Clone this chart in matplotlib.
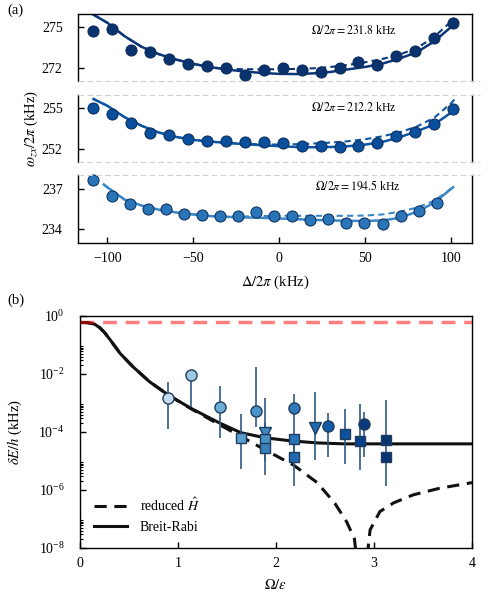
import numpy as np
import matplotlib
matplotlib.use("Agg")
import matplotlib.pyplot as plt
from matplotlib.lines import Line2D
from matplotlib.ticker import FixedLocator, NullFormatter

plt.rcParams["font.family"] = ["Liberation Serif", "DejaVu Serif"]
plt.rcParams["mathtext.fontset"] = "stix"
plt.rcParams["font.size"] = 10
plt.rcParams["axes.linewidth"] = 1.0

# ---- panel (a): trap frequency vs detuning, three Rabi frequencies ----
rabi_labels = [r"$\Omega/2\pi=231.8$ kHz", r"$\Omega/2\pi=212.2$ kHz", r"$\Omega/2\pi=194.5$ kHz"]

det_top = [-108, -97, -86, -75, -64, -53, -42, -31, -20, -9, 2, 13, 24, 35, 46, 57, 68, 79, 90, 101]
freq_top = [274.72, 274.85, 273.35, 273.15, 272.65, 272.3, 272.1, 271.98, 271.48, 271.8,
            271.98, 271.85, 271.65, 271.98, 272.43, 272.23, 272.85, 273.22, 274.23, 275.3]

det_mid = [-108, -97, -86, -75, -64, -53, -42, -31, -20, -9, 2, 13, 24, 35, 46, 57, 68, 79, 90, 101]
freq_mid = [255.0, 254.6, 253.9, 253.2, 253.0, 252.7, 252.55, 252.53, 252.48, 252.48,
            252.43, 252.2, 252.2, 252.15, 252.2, 252.45, 252.94, 253.27, 253.85, 254.92]

det_bot = [-108, -97.5, -87, -76.5, -66, -55.5, -45, -34.5, -24, -13.5, -3, 7.5, 18, 28.5,
           39, 49.5, 60, 70.5, 81, 91.5]
freq_bot = [237.62, 236.45, 235.87, 235.5, 235.5, 235.13, 235.05, 234.95, 234.95, 235.25,
            234.95, 234.95, 234.7, 234.75, 234.5, 234.5, 234.37, 234.95, 235.37, 235.95]

fit_det = [-108, -100, -90, -80, -70, -60, -50, -40, -30, -20, -10, 0, 10, 20, 30, 40, 50,
           60, 70, 80, 90, 100, 102]
fit_top_full = [275.95, 275.35, 274.35, 273.55, 273.0, 272.6, 272.28, 272.03, 271.85, 271.7,
                271.6, 271.53, 271.52, 271.57, 271.68, 271.87, 272.05, 272.3, 272.68, 273.15,
                273.95, 275.05, 275.3]
fit_top_red = [275.95, 275.35, 274.35, 273.55, 273.0, 272.6, 272.28, 272.03, 271.9, 271.88,
               271.87, 271.88, 271.9, 271.95, 272.05, 272.2, 272.4, 272.65, 272.98, 273.45,
               274.3, 275.45, 275.7]
fit_mid_full = [255.7, 255.2, 254.35, 253.7, 253.2, 252.87, 252.65, 252.52, 252.42, 252.33,
                252.25, 252.18, 252.12, 252.1, 252.12, 252.18, 252.3, 252.5, 252.85, 253.3,
                253.8, 254.7, 255.1]
fit_mid_red = [255.7, 255.2, 254.35, 253.7, 253.2, 252.87, 252.65, 252.52, 252.42, 252.35,
               252.32, 252.3, 252.33, 252.38, 252.45, 252.55, 252.7, 252.92, 253.22, 253.65,
               254.3, 255.4, 255.7]
fit_det_bot = [-102, -100, -90, -80, -70, -60, -50, -40, -30, -20, -10, 0, 10, 20, 30, 40,
               50, 60, 70, 80, 90, 100, 101]
fit_bot_full = [237.3, 237.1, 236.2, 235.75, 235.45, 235.25, 235.1, 234.98, 234.92, 234.88,
                234.85, 234.8, 234.75, 234.7, 234.66, 234.63, 234.62, 234.66, 234.85, 235.3,
                235.95, 237.0, 237.1]
fit_bot_red = [237.3, 237.1, 236.2, 235.75, 235.45, 235.25, 235.1, 234.98, 234.92, 234.95,
               234.98, 235.0, 235.0, 235.0, 235.0, 235.0, 235.02, 235.1, 235.3, 235.6,
               236.1, 237.0, 237.15]

# ---- panel (b): energy error vs Omega/epsilon ----
curve_x = [0, 0.08, 0.15, 0.2, 0.25, 0.31, 0.41, 0.54, 0.71, 0.9, 1.13, 1.43, 1.64, 1.89,
           2.14, 2.42, 2.7, 3.0, 4.0]
breit_rabi = [0.60, 0.59, 0.52, 0.40, 0.27, 0.148, 0.051, 0.0178, 5.4e-3, 1.9e-3, 6.6e-4,
              2.0e-4, 9.5e-5, 6.3e-5, 5.0e-5, 4.2e-5, 3.9e-5, 3.9e-5, 3.9e-5]
reduced_x = [0, 0.08, 0.15, 0.2, 0.25, 0.31, 0.41, 0.54, 0.71, 0.9, 1.13, 1.43, 1.64, 1.89,
             2.18, 2.42, 2.6, 2.72, 2.8, 2.875, 2.96, 3.06, 3.2, 3.4, 3.67, 3.96, 4.0]
reduced_h = [0.60, 0.59, 0.52, 0.40, 0.27, 0.148, 0.051, 0.0178, 5.4e-3, 1.9e-3, 6.4e-4,
             1.74e-4, 7.1e-5, 2.4e-5, 7.2e-6, 1.8e-6, 3.5e-7, 8.1e-8, 2.1e-8, 1e-10,
             4.2e-8, 1.8e-7, 3.6e-7, 6.8e-7, 1.15e-6, 1.7e-6, 1.8e-6]
upper_bound = 0.6

meas_x = [0.90, 1.13, 1.43, 1.64, 1.80, 1.89, 1.89, 1.89, 2.18, 2.18, 2.18, 2.40, 2.53,
          2.70, 2.86, 2.90, 3.12, 3.12]
meas_y = [1.45e-3, 9.3e-3, 7.4e-4, 6.0e-5, 5.2e-4, 9.5e-5, 5.8e-5, 2.8e-5, 6.6e-4, 5.8e-5,
          1.35e-5, 1.35e-4, 1.62e-4, 8.5e-5, 5.0e-5, 1.9e-4, 5.2e-5, 1.4e-5]
meas_lo = [1.26e-4, 7.4e-4, 6.0e-5, 5.2e-6, 1.5e-4, 2.5e-5, 3.2e-6, 1.0e-5, 2.0e-4, 2.0e-5,
           1.35e-6, 1.07e-5, 1.35e-5, 7.9e-6, 4.9e-6, 1.4e-5, 1.4e-6, 1.4e-5]
meas_hi = [5.4e-3, 1.1e-2, 3.9e-3, 4.1e-4, 1.8e-2, 1.5e-3, 2.0e-4, 5.0e-5, 2.1e-3, 2.0e-4,
           5.0e-5, 2.45e-3, 4.4e-4, 6.0e-4, 8.9e-4, 5.0e-4, 1.26e-3, 1.4e-5]
meas_marker = ["o", "o", "o", "s", "o", "v", "s", "s", "o", "s", "s", "v", "o", "s", "s",
               "o", "s", "s"]
meas_color = ["#c6dbef", "#9ecae1", "#6baed6", "#5a9fd2", "#4a94c9", "#3f88c3", "#4a90c4",
              "#3a80bd", "#2f7abb", "#2a74b6", "#2169b0", "#1f6ab0", "#135ca6", "#0d529c",
              "#08408a", "#0a3a7e", "#083572", "#083572"]

fig = plt.figure(figsize=(4.92, 6.10), dpi=100)

# panel (a) axes, stacked
L, W = 78 / 492, 394 / 492
ax_top = fig.add_axes([L, 1 - 81 / 610, W, 67 / 610])
ax_mid = fig.add_axes([L, 1 - 162 / 610, W, 67 / 610])
ax_bot = fig.add_axes([L, 1 - 243 / 610, W, 68 / 610])

sets = [
    (ax_top, det_top, freq_top, fit_det, fit_top_full, fit_top_red, "#09336f", "#0b377a", (271, 276), [272, 275], (0.70, 0.76)),
    (ax_mid, det_mid, freq_mid, fit_det, fit_mid_full, fit_mid_red, "#0a4f9c", "#0d56a4", (251, 256), [252, 255], (0.70, 0.82)),
    (ax_bot, det_bot, freq_bot, fit_det_bot, fit_bot_full, fit_bot_red, "#2a74b8", "#3a87c8", (233, 238), [234, 237], (0.71, 0.84)),
]
for i, (ax, dx, fy, fx, ffull, fred, col, lcol, ylim, yt, tpos) in enumerate(sets):
    ax.plot(fx, ffull, color=lcol, lw=1.8, zorder=2)
    ax.plot(fx, fred, color=lcol, lw=1.5, ls=(0, (3, 2)), zorder=2)
    ax.plot(dx, fy, "o", ms=8, mfc=col, mec="#0a2a55", mew=0.7, zorder=3, clip_on=False)
    ax.set_xlim(-117, 112)
    ax.set_ylim(*ylim)
    ax.set_yticks(yt)
    ax.tick_params(axis="y", direction="in", length=4, width=1, labelsize=10, right=False,
                   pad=11)
    ax.text(tpos[0], tpos[1], rabi_labels[i], transform=ax.transAxes, ha="center",
            va="center", fontsize=8.5)
    if i > 0:
        ax.spines["top"].set_visible(False)
    if i < 2:
        ax.spines["bottom"].set_visible(False)
        ax.tick_params(axis="x", bottom=False, labelbottom=False)

ax_bot.set_xticks([-100, -50, 0, 50, 100])
ax_bot.tick_params(axis="x", direction="in", length=4, width=1, labelsize=10, pad=6.5)
ax_bot.set_xlabel(r"$\Delta/2\pi$ (kHz)", fontsize=10.5, labelpad=6)

# dashed break lines
for yy in [81, 95, 162, 175]:
    fig.add_artist(Line2D([L, 480 / 492], [1 - yy / 610, 1 - yy / 610], color="#d0d0d0",
                          lw=0.8, ls=(0, (5, 3)), transform=fig.transFigure))

fig.text(31 / 492, 1 - 128 / 610, r"$\omega_{zx}/2\pi$ (kHz)", rotation=90, ha="center",
         va="center", fontsize=10.5)
fig.text(0.015, 0.983, "(a)", ha="left", va="center", fontsize=10.5)
fig.text(0.015, 1 - 300 / 610, "(b)", ha="left", va="center", fontsize=10.5)

# panel (b)
ax_b = fig.add_axes([80 / 492, 1 - 548 / 610, 392 / 492, 232 / 610])
ax_b.set_yscale("log")
ax_b.plot([0, 4], [upper_bound, upper_bound], color="red", alpha=0.5, lw=2.5,
          ls=(0, (4, 2.5)), zorder=3)
ax_b.plot(reduced_x, reduced_h, color="#111111", lw=2.2, ls=(0, (4, 2.5)),
          label=r"reduced $\hat{H}$", zorder=2)
ax_b.plot(curve_x, breit_rabi, color="#111111", lw=2.2, label="Breit-Rabi", zorder=2)

for x, y, lo, hi, m, c in zip(meas_x, meas_y, meas_lo, meas_hi, meas_marker, meas_color):
    ax_b.errorbar([x], [y], yerr=[[y - lo], [hi - y]], fmt=m, ms=8 if m != "s" else 7.5,
                  mfc=c, mec="#1f3d5c", mew=1.0, ecolor="#2d5a85", elinewidth=1.2,
                  capsize=0, zorder=4)

ax_b.set_xlim(0, 4)
ax_b.set_ylim(1e-8, 1)
ax_b.set_xticks([0, 1, 2, 3, 4])
ax_b.yaxis.set_major_locator(FixedLocator([1e-8, 1e-6, 1e-4, 1e-2, 1]))
ax_b.yaxis.set_minor_locator(FixedLocator([k * 10.0 ** d for d in (-8, -6, -4, -2) for k in range(2, 10)]))
ax_b.yaxis.set_minor_formatter(NullFormatter())
ax_b.tick_params(axis="x", which="major", direction="in", length=4.5, width=1, labelsize=10,
                 pad=6.5)
ax_b.tick_params(axis="y", which="major", direction="in", length=4.5, width=1, labelsize=10,
                 pad=11)
ax_b.tick_params(axis="y", which="minor", direction="in", length=2.5, width=0.8)
ax_b.set_xlabel(r"$\Omega/\varepsilon$", fontsize=10.5, labelpad=6)
ax_b.set_ylabel(r"$\delta E/h$ (kHz)", fontsize=10.5)
ax_b.yaxis.set_label_coords(-56 / 392, 0.5)
ax_b.legend(loc="lower left", frameon=False, fontsize=10, handlelength=2.4,
            handletextpad=0.9, labelspacing=0.5, borderaxespad=0.6)

fig.savefig("out.png", dpi=100)
